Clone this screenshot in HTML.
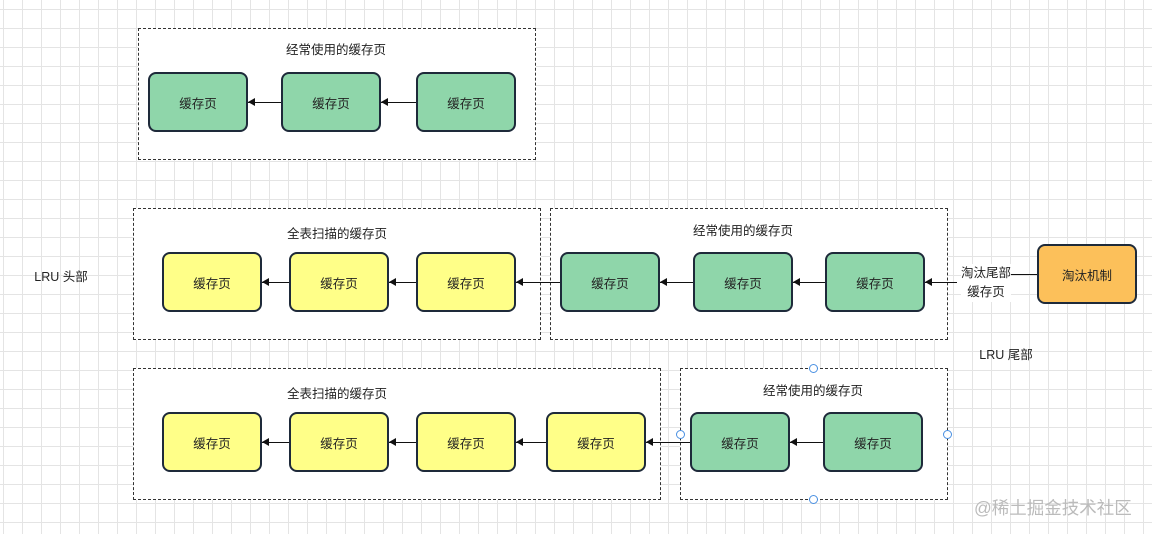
<!DOCTYPE html>
<html><head><meta charset="utf-8"><style>
body{margin:0;width:1152px;height:534px;overflow:hidden;background:#fff;
background-image:linear-gradient(#e4e4e4 1px,transparent 1px),linear-gradient(90deg,#e4e4e4 1px,transparent 1px);background-size:19px 19px;background-position:3px 9px;
font-family:"Liberation Sans","Noto Sans CJK SC",sans-serif;font-size:12.5px;color:#222;position:relative}
.g{position:absolute;border:1px dashed #333;background:#fff;box-sizing:border-box}
.t{position:absolute;transform:translateX(-50%);white-space:nowrap;font-size:12.5px}
.b{position:absolute;width:100px;height:60px;border:2px solid #1e2a3a;border-radius:8px;box-sizing:border-box;display:flex;align-items:center;justify-content:center;font-size:12.5px}
.gr{background:#8fd6aa}.y{background:#ffff88}.o{background:#fcc05a}
.a{position:absolute;height:1px;background:#111}
.a:before{content:"";position:absolute;left:0;top:-4px;border-right:7px solid #111;border-top:4.5px solid transparent;border-bottom:4.5px solid transparent}
.h{position:absolute;width:7px;height:7px;border:1px solid #4a90e2;border-radius:50%;background:#fff}
</style></head><body>
<div class="g" style="left:138px;top:28px;width:398px;height:132px"></div>
<div class="t" style="left:336px;top:39px">经常使用的缓存页</div>
<div class="b gr" style="left:148px;top:72px">缓存页</div>
<div class="b gr" style="left:281px;top:72px">缓存页</div>
<div class="b gr" style="left:416px;top:72px">缓存页</div>
<div class="a" style="left:248px;top:102px;width:33px"></div>
<div class="a" style="left:381px;top:102px;width:35px"></div>

<div class="g" style="left:133px;top:208px;width:408px;height:132px"></div>
<div class="t" style="left:337px;top:223px">全表扫描的缓存页</div>
<div class="g" style="left:550px;top:208px;width:398px;height:132px"></div>
<div class="t" style="left:743px;top:220px">经常使用的缓存页</div>
<div class="b y" style="left:162px;top:252px">缓存页</div>
<div class="b y" style="left:289px;top:252px">缓存页</div>
<div class="b y" style="left:416px;top:252px">缓存页</div>
<div class="b gr" style="left:560px;top:252px">缓存页</div>
<div class="b gr" style="left:693px;top:252px">缓存页</div>
<div class="b gr" style="left:825px;top:252px">缓存页</div>
<div class="a" style="left:262px;top:282px;width:27px"></div>
<div class="a" style="left:389px;top:282px;width:27px"></div>
<div class="a" style="left:516px;top:282px;width:44px"></div>
<div class="a" style="left:660px;top:282px;width:33px"></div>
<div class="a" style="left:793px;top:282px;width:32px"></div>
<div class="a" style="left:925px;top:282px;width:32px"></div>
<div style="position:absolute;left:1010px;top:274px;width:27px;height:1px;background:#111"></div>
<div class="t" style="left:986px;top:264px;text-align:center;line-height:19px;background:#fff">淘汰尾部<br>缓存页</div>
<div class="b o" style="left:1037px;top:244px">淘汰机制</div>
<div class="t" style="left:61px;top:266px">LRU 头部</div>
<div class="t" style="left:1006px;top:344px">LRU 尾部</div>

<div class="g" style="left:133px;top:368px;width:528px;height:132px"></div>
<div class="t" style="left:337px;top:383px">全表扫描的缓存页</div>
<div class="g" style="left:680px;top:368px;width:268px;height:132px"></div>
<div class="t" style="left:813px;top:380px">经常使用的缓存页</div>
<div class="b y" style="left:162px;top:412px">缓存页</div>
<div class="b y" style="left:289px;top:412px">缓存页</div>
<div class="b y" style="left:416px;top:412px">缓存页</div>
<div class="b y" style="left:546px;top:412px">缓存页</div>
<div class="b gr" style="left:690px;top:412px">缓存页</div>
<div class="b gr" style="left:823px;top:412px">缓存页</div>
<div class="a" style="left:262px;top:442px;width:27px"></div>
<div class="a" style="left:389px;top:442px;width:27px"></div>
<div class="a" style="left:516px;top:442px;width:30px"></div>
<div class="a" style="left:646px;top:442px;width:44px"></div>
<div class="a" style="left:790px;top:442px;width:33px"></div>
<div class="h" style="left:809px;top:364px"></div>
<div class="h" style="left:676px;top:430px"></div>
<div class="h" style="left:943px;top:430px"></div>
<div class="h" style="left:809px;top:495px"></div>
<div style="position:absolute;left:974px;top:495px;font-size:17.5px;color:#bbb">@稀土掘金技术社区</div>
</body></html>
